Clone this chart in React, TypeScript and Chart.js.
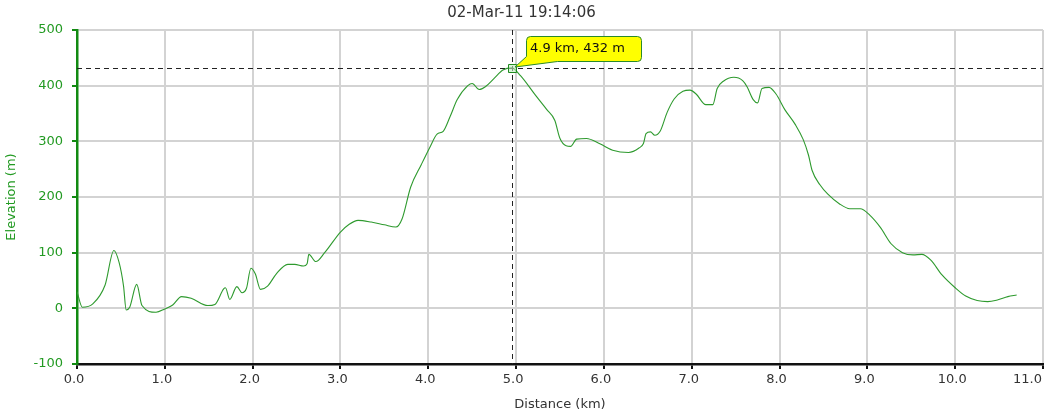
import React, { useEffect, useRef } from "react";
import { Chart, registerables } from "chart.js";

Chart.register(...registerables);

const chartTitle = "02-Mar-11 19:14:06";
const xAxisTitle = "Distance (km)";
const yAxisTitle = "Elevation (m)";

const distances = [
  0.0, 0.06, 0.18, 0.32, 0.42, 0.48, 0.53, 0.56, 0.6, 0.68, 0.74, 0.9, 1.0, 1.09, 1.19, 1.3, 1.49, 1.57,
  1.67, 1.69, 1.74, 1.82, 1.88, 1.93, 1.98, 2.03, 2.09, 2.17, 2.27, 2.4, 2.48, 2.58, 2.62, 2.64, 2.72, 2.82,
  3.0, 3.1, 3.2, 3.35, 3.5, 3.63, 3.7, 3.8, 3.92, 4.02, 4.1, 4.17, 4.25, 4.33, 4.45, 4.5, 4.58, 4.65, 4.75,
  4.85, 4.95, 5.05, 5.22, 5.35, 5.44, 5.5, 5.57, 5.62, 5.69, 5.8, 5.96, 6.1, 6.28, 6.4, 6.45, 6.48, 6.53,
  6.58, 6.64, 6.72, 6.8, 6.9, 6.98, 7.05, 7.16, 7.24, 7.29, 7.36, 7.48, 7.58, 7.63, 7.7, 7.75, 7.8, 7.88,
  7.96, 8.06, 8.18, 8.27, 8.33, 8.37, 8.46, 8.55, 8.68, 8.8, 8.92, 9.03, 9.15, 9.27, 9.4, 9.52, 9.62, 9.72,
  9.85, 10.0, 10.12, 10.25, 10.37, 10.48, 10.6, 10.7,
];

const elevations = [
  30, 2, 8, 42, 104, 82, 40, -3, 2, 43, 5, -7, -1, 6, 21, 18, 5, 7,
  35, 37, 16, 39, 28, 36, 72, 62, 34, 40, 62, 79, 79, 76, 80, 97, 84, 100,
  137, 151, 158, 155, 150, 146, 160, 218, 258, 290, 313, 318, 345, 375, 400, 404, 393, 398, 413,
  428, 432, 418, 383, 357, 338, 305, 292, 291, 304, 305, 295, 284, 280, 288, 296, 314, 317,
  311, 318, 352, 376, 390, 392, 385, 366, 366, 395, 408, 415, 409, 398, 375, 369, 395, 397,
  385, 357, 330, 303, 275, 248, 222, 205, 188, 179, 179, 167, 145, 116, 100, 96, 97, 87,
  60, 37, 22, 14, 12, 15, 21, 24,
];

const cursorIndex = 56; // 4.95 km, 432 m

const xTickValues = [0, 1, 2, 3, 4, 5, 6, 7, 8, 9, 10, 11];
const yTickValues = [-100, 0, 100, 200, 300, 400, 500];

const FONT = "'DejaVu Sans', Verdana, sans-serif";
const GREEN_AXIS = "#128a12";
const GREEN_TEXT = "#229a22";
const LINE_GREEN = "#2e9a2e";

const lastTickAlign = {
  id: "lastTickAlign",
  beforeDraw(chart: any) {
    const s = chart.scales.x;
    const items = s.getLabelItems();
    const last = items[items.length - 1];
    if (last) {
      last.options.textAlign = "right";
      last.options.translation = [s.right - 1, last.options.translation[1]];
    }
  },
};

const cursorPlugin = {
  id: "cursorPlugin",
  afterDatasetsDraw(chart: any) {
    const { ctx, chartArea, scales } = chart;
    const cx = distances[cursorIndex];
    const cy = elevations[cursorIndex];
    const px = scales.x.getPixelForValue(cx);
    const py = scales.y.getPixelForValue(cy);
    const rx = Math.round(px);
    const ry = Math.round(py);
    ctx.save();
    ctx.strokeStyle = "#222";
    ctx.lineWidth = 1;
    ctx.setLineDash([5, 4]);
    ctx.beginPath();
    ctx.moveTo(rx + 0.5, chartArea.top);
    ctx.lineTo(rx + 0.5, chartArea.bottom);
    ctx.moveTo(chartArea.left, ry + 0.5);
    ctx.lineTo(chartArea.right, ry + 0.5);
    ctx.stroke();
    ctx.setLineDash([]);

    // marker
    ctx.strokeStyle = "#1f8a1f";
    ctx.fillStyle = "rgba(190,235,190,0.6)";
    ctx.lineWidth = 1;
    ctx.beginPath();
    ctx.rect(rx - 3.5, ry - 3.5, 8, 8);
    ctx.fill();
    ctx.stroke();

    // callout
    const label = `${(Math.floor(cx * 10) / 10).toFixed(1)} km, ${cy} m`;
    ctx.font = `13px ${FONT}`;
    const tw = ctx.measureText(label).width;
    const bx = rx + 14.5;
    const by = 36.5;
    const bw = Math.max(tw + 14, 115);
    const bh = 25;
    const r = 4;
    const tipX = rx + 3;
    const tipY = ry - 1;
    ctx.beginPath();
    ctx.moveTo(bx + r, by);
    ctx.lineTo(bx + bw - r, by);
    ctx.quadraticCurveTo(bx + bw, by, bx + bw, by + r);
    ctx.lineTo(bx + bw, by + bh - r);
    ctx.quadraticCurveTo(bx + bw, by + bh, bx + bw - r, by + bh);
    ctx.lineTo(bx + 31, by + bh);
    ctx.lineTo(tipX, tipY);
    ctx.lineTo(bx, by + bh - 5);
    ctx.lineTo(bx, by + r);
    ctx.quadraticCurveTo(bx, by, bx + r, by);
    ctx.closePath();
    ctx.fillStyle = "#ffff00";
    ctx.fill();
    ctx.strokeStyle = "#2a8a2a";
    ctx.stroke();
    ctx.fillStyle = "#111";
    ctx.textAlign = "left";
    ctx.textBaseline = "middle";
    ctx.fillText(label, bx + 3.5, by + 12.5);
    ctx.restore();
  },
};

export default function App() {
  const canvasRef = useRef<HTMLCanvasElement | null>(null);

  useEffect(() => {
    const canvas = canvasRef.current;
    if (!canvas) return;
    const points = distances.map((d, i) => ({ x: d, y: elevations[i] }));
    const chart = new Chart(canvas, {
      type: "line",
      data: {
        datasets: [
          {
            data: points,
            borderColor: LINE_GREEN,
            borderWidth: 1.1,
            pointRadius: 0,
            fill: false,
            cubicInterpolationMode: "monotone",
          },
        ],
      },
      options: {
        responsive: false,
        animation: false,
        layout: { padding: { left: 0, right: 3, top: 0, bottom: 0 } },
        plugins: {
          legend: { display: false },
          tooltip: { enabled: false },
          title: {
            display: true,
            text: chartTitle,
            color: "#333",
            font: { family: FONT, size: 15, weight: "normal" },
            padding: { top: 4, bottom: 8 },
          },
        },
        scales: {
          x: {
            type: "linear",
            min: 0,
            max: 11,
            afterBuildTicks: (s: any) => {
              s.ticks = xTickValues.map((v) => ({ value: v }));
            },
            afterFit: (s: any) => {
              s.height = 52;
              s.paddingLeft = 0;
              s.paddingRight = 0;
            },
            ticks: {
              color: "#333",
              font: { family: FONT, size: 13 },
              padding: 3,
              maxRotation: 0,
              labelOffset: -3,
              callback: (v: any) => Number(v).toFixed(1),
            },
            grid: {
              color: "#d3d3d3",
              lineWidth: 2,
              tickColor: "#111",
              tickWidth: 2,
              tickLength: 5,
            },
            border: { color: "#111", width: 2.5 },
            title: {
              display: true,
              text: xAxisTitle,
              color: "#333",
              font: { family: FONT, size: 13 },
              padding: { top: 0, bottom: 4 },
            },
          },
          y: {
            type: "linear",
            min: -100,
            max: 500,
            afterBuildTicks: (s: any) => {
              s.ticks = yTickValues.map((v) => ({ value: v }));
            },
            afterFit: (s: any) => {
              s.width = 77;
              s.paddingTop = 0;
              s.paddingBottom = 0;
            },
            ticks: {
              color: GREEN_TEXT,
              font: { family: FONT, size: 13 },
              padding: 9,
            },
            grid: {
              color: "#d3d3d3",
              lineWidth: 2,
              tickColor: GREEN_AXIS,
              tickWidth: 2,
              tickLength: 5,
            },
            border: { color: GREEN_AXIS, width: 2.5 },
            title: {
              display: true,
              text: yAxisTitle,
              color: GREEN_TEXT,
              font: { family: FONT, size: 13 },
              padding: { top: 4, bottom: 0 },
            },
          },
        },
      },
      plugins: [lastTickAlign, cursorPlugin],
    } as any);
    return () => chart.destroy();
  }, []);

  return (
    <div style={{ position: "absolute", left: 0, top: 0, width: 1046, height: 416, background: "#fff" }}>
      <canvas ref={canvasRef} width={1046} height={416} style={{ display: "block" }} />
    </div>
  );
}
